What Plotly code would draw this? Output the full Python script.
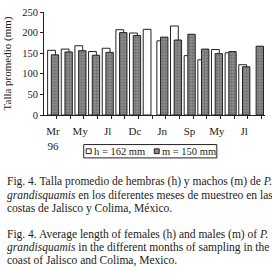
import plotly.graph_objects as go

# Data
months = ["Mr<br>96", "", "My", "", "Jl", "", "Dc", "", "Jn", "", "Sp", "", "My", "", "Jl", ""]
hembras = [157, 160, 168, 154, 162, 207, 199, 208, 180, 216, 144, 134, 159, 151, 122, None]
machos = [146, 153, 156, 145, 152, 200, 193, None, 189, 182, 196, 160, 149, 154, 117, 167]
legend_h = "h = 162 mm"
legend_m = "m = 150 mm"
ytitle = "Talla promedio (mm)"
caption_es = [
    "Fig. 4. Talla promedio de hembras (h) y machos (m) de <i>P.</i>",
    "<i>grandisquamis</i> en los diferentes meses de muestreo en las",
    "costas de Jalisco y Colima, México.",
]
caption_en = [
    "Fig. 4. Average length of females (h) and males (m) of <i>P.</i>",
    "<i>grandisquamis</i> in the different months of sampling in the",
    "coast of Jalisco and Colima, Mexico.",
]

W, H = 272, 276
L, R, T, B = 43, 265.5, 7, 115
xs = list(range(len(months)))
FONT = "Liberation Serif"
INK = "#222"
GREY = "#8a8a8a"

def px2paper_x(px):
    return (px - L) / (R - L)

def px2paper_y(py):
    return (B - py) / (B - T)

fig = go.Figure()
fig.add_trace(go.Bar(
    x=xs, y=hembras, name=legend_h,
    offset=-0.39, width=0.57,
    marker=dict(color="white", line=dict(color=INK, width=1)),
))
fig.add_trace(go.Bar(
    x=xs, y=machos, name=legend_m,
    offset=-0.12, width=0.54,
    marker=dict(color=GREY, line=dict(color=INK, width=1),
                pattern=dict(shape=".", fgcolor="#4a4a4a", size=3, solidity=0.35)),
))

annotations = []
shapes = []
for i, line in enumerate(caption_es):
    annotations.append(dict(text=line, x=px2paper_x(4), y=px2paper_y(185 + 14 * i),
                            xref="paper", yref="paper", xanchor="left", yanchor="middle",
                            showarrow=False, font=dict(family=FONT, size=11.5, color=INK)))
for i, line in enumerate(caption_en):
    annotations.append(dict(text=line, x=px2paper_x(4), y=px2paper_y(240 + 14 * i),
                            xref="paper", yref="paper", xanchor="left", yanchor="middle",
                            showarrow=False, font=dict(family=FONT, size=11.5, color=INK)))

# legend box (drawn manually to match the compact original)
shapes.append(dict(type="rect", xref="paper", yref="paper",
                   x0=px2paper_x(83), x1=px2paper_x(217), y0=px2paper_y(146), y1=px2paper_y(160),
                   line=dict(color=INK, width=1), fillcolor="white"))
shapes.append(dict(type="rect", xref="paper", yref="paper",
                   x0=px2paper_x(85.5), x1=px2paper_x(90.5), y0=px2paper_y(150.5), y1=px2paper_y(155.5),
                   line=dict(color=INK, width=1), fillcolor="white"))
shapes.append(dict(type="rect", xref="paper", yref="paper",
                   x0=px2paper_x(154), x1=px2paper_x(159), y0=px2paper_y(150.5), y1=px2paper_y(155.5),
                   line=dict(color=INK, width=1), fillcolor=GREY))
annotations.append(dict(text=legend_h, x=px2paper_x(91), y=px2paper_y(153),
                        xref="paper", yref="paper", xanchor="left", yanchor="middle",
                        showarrow=False, font=dict(family=FONT, size=10.5, color=INK)))
annotations.append(dict(text=legend_m, x=px2paper_x(159.5), y=px2paper_y(153),
                        xref="paper", yref="paper", xanchor="left", yanchor="middle",
                        showarrow=False, font=dict(family=FONT, size=10.5, color=INK)))

fig.update_layout(
    width=W, height=H,
    margin=dict(l=L, r=W - R, t=T, b=H - B, pad=0),
    paper_bgcolor="white", plot_bgcolor="white",
    barmode="overlay",
    showlegend=False,
    annotations=annotations,
    shapes=shapes,
    font=dict(family=FONT, size=10, color=INK),
)
fig.update_xaxes(
    range=[-0.655, 15.53],
    tickmode="array", tickvals=xs, ticktext=months,
    ticks="", showgrid=False, zeroline=False,
    showline=True, linecolor=INK, linewidth=1,
    ticklabelstandoff=6,
    tickfont=dict(family=FONT, size=11, color=INK),
    minor=dict(tickmode="array", tickvals=[x + 0.27 for x in xs], ticks="outside",
               ticklen=3, tickcolor=INK, showgrid=False),
)
fig.update_yaxes(
    range=[0, 250], tickvals=[0, 50, 100, 150, 200, 250],
    ticks="outside", ticklen=3, tickcolor=INK,
    showgrid=False, zeroline=False,
    showline=True, linecolor=INK, linewidth=1,
    tickfont=dict(family=FONT, size=10.5, color=INK),
    title=dict(text=ytitle, font=dict(family=FONT, size=11, color=INK), standoff=8),
)

fig.write_html("out.html")
